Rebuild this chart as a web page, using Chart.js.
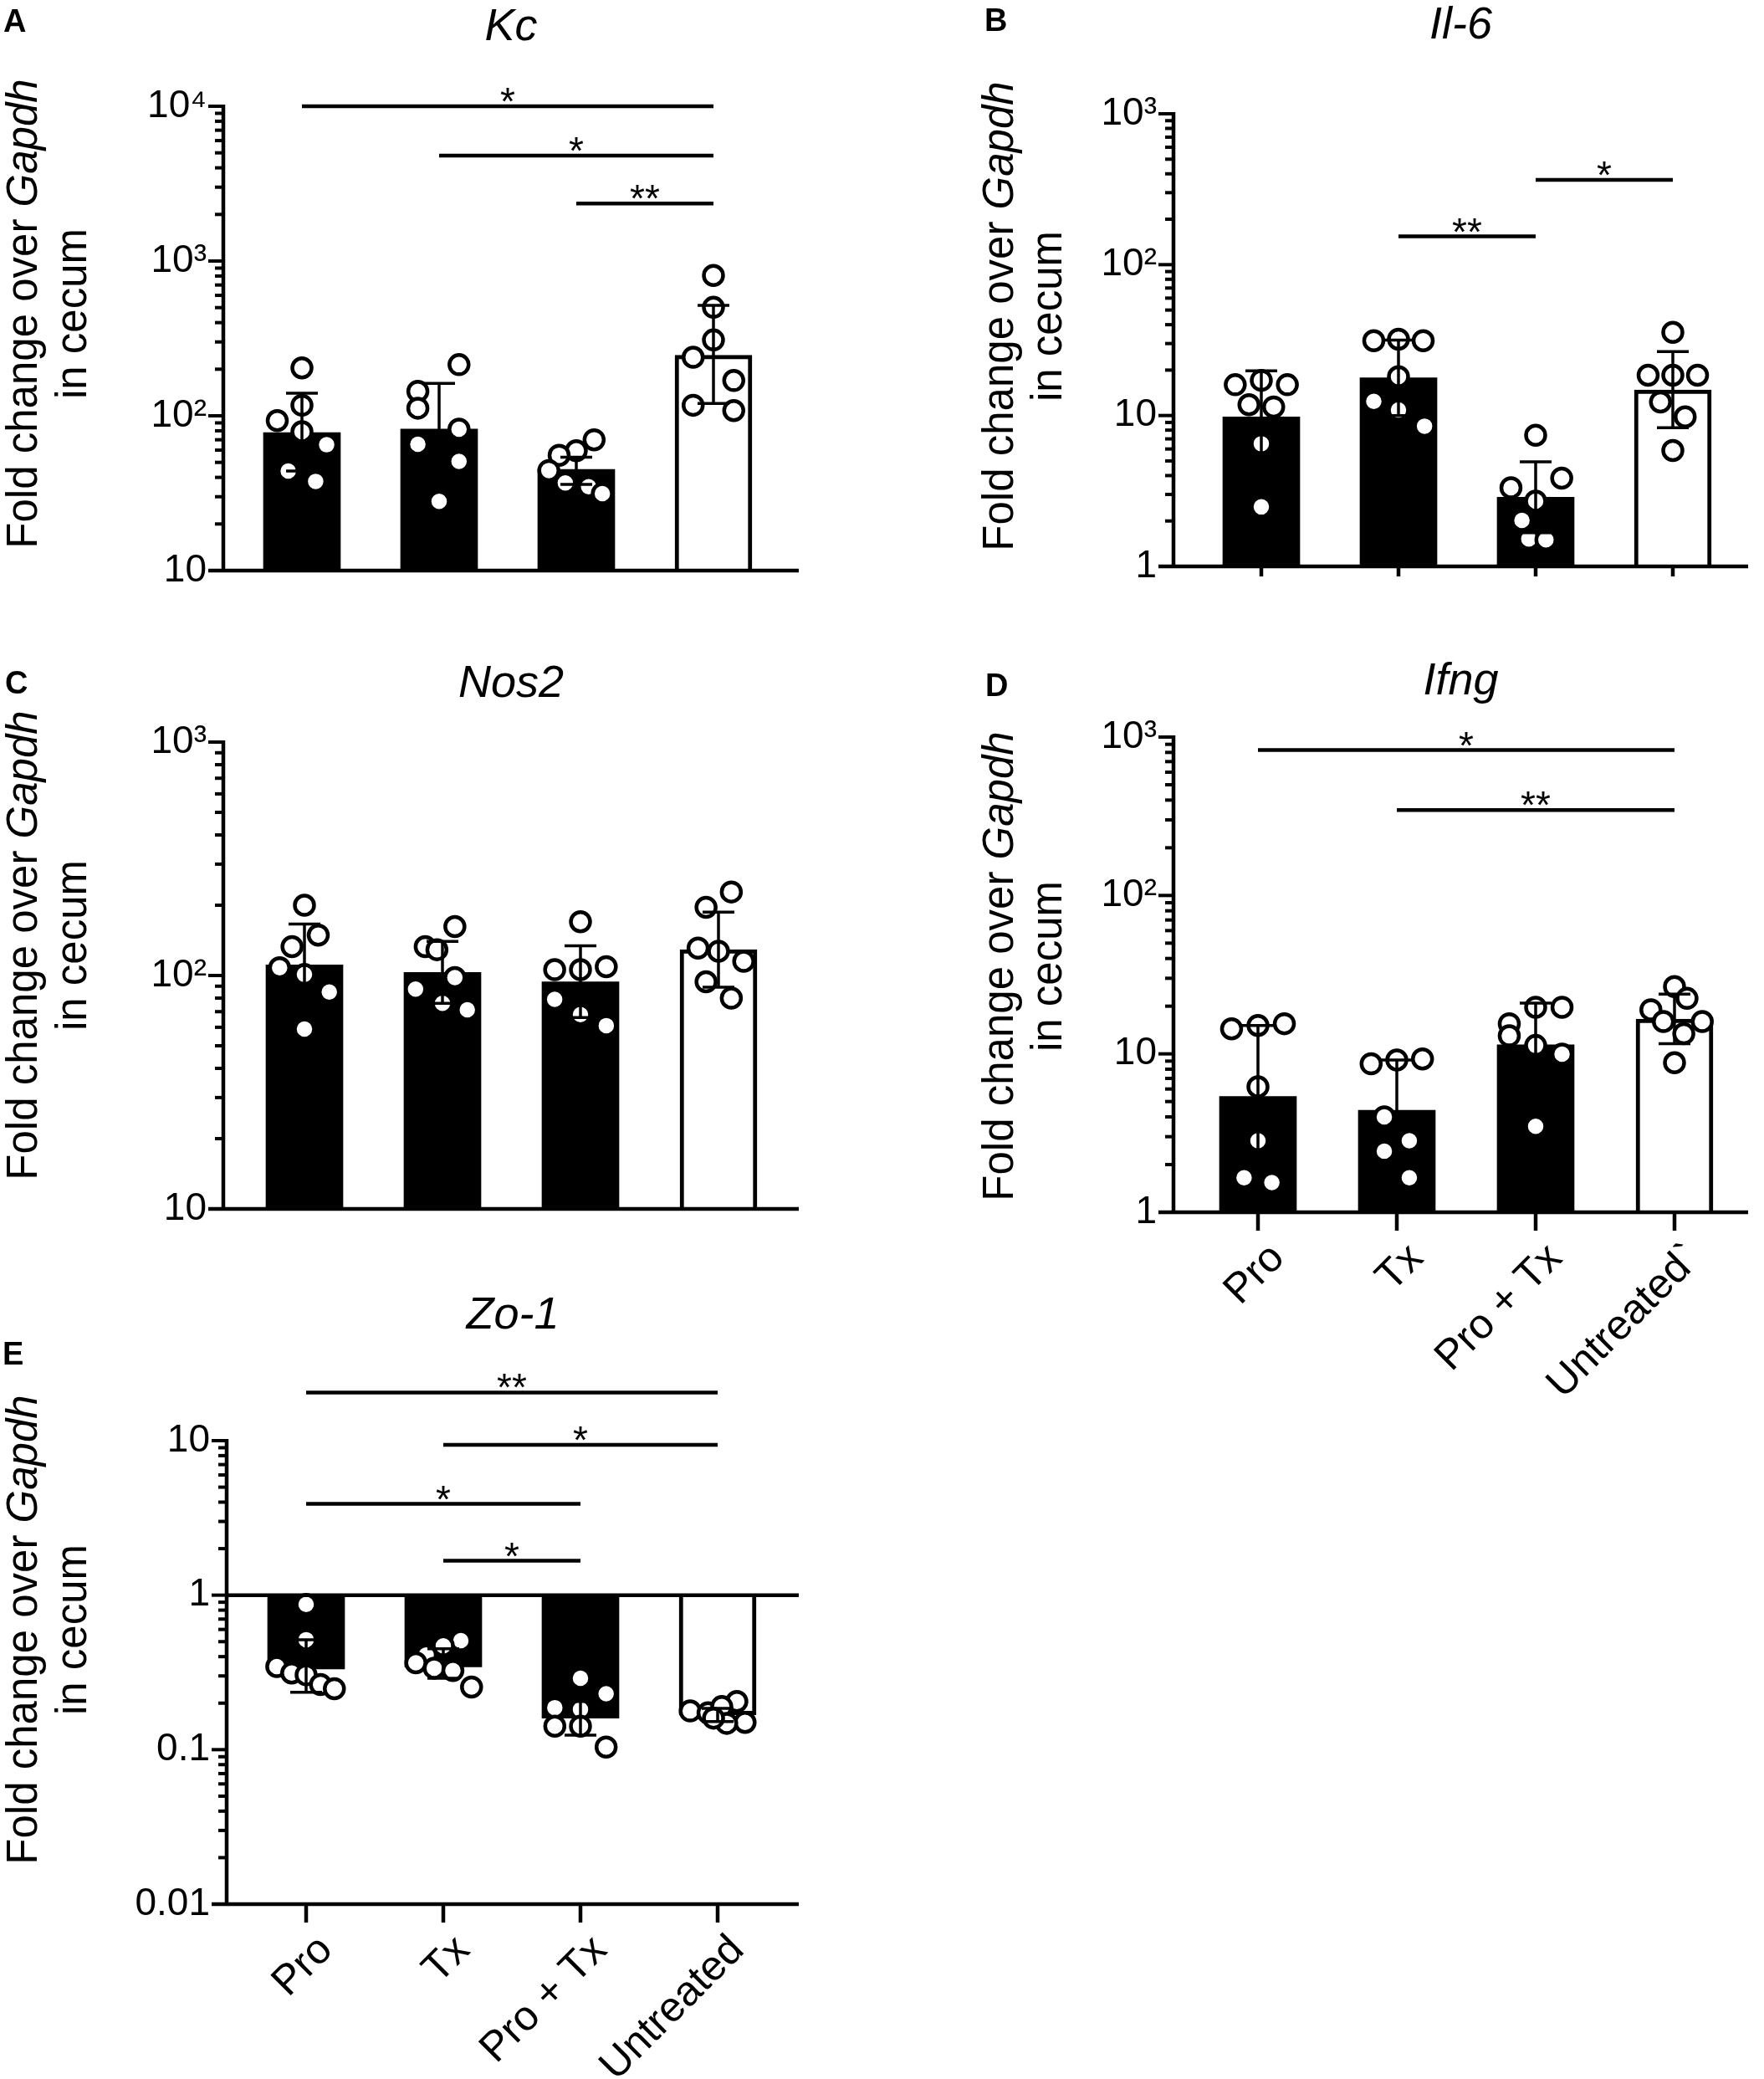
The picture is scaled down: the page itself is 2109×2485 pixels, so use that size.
<!DOCTYPE html>
<html>
<head>
<meta charset="utf-8">
<script src="https://cdn.jsdelivr.net/npm/chart.js@4.4.1/dist/chart.umd.min.js"></script>
<style>
  body { margin: 0; background: #fff; width: 2109px; height: 2485px; position: relative; overflow: hidden; }
  canvas { position: absolute; }
</style>
</head>
<body>
<canvas id="kc-chart" style="left:0;top:0" width="1000" height="760"></canvas>
<canvas id="il6-chart" style="left:1100px;top:0" width="1009" height="760"></canvas>
<canvas id="nos2-chart" style="left:0;top:760px" width="1000" height="740"></canvas>
<canvas id="ifng-chart" style="left:1100px;top:760px" width="1009" height="940"></canvas>
<canvas id="zo1-chart" style="left:0;top:1520px" width="1000" height="965"></canvas>
<script>
const FONT = "'Liberation Sans', Arial, Helvetica, sans-serif";

const categories = ['Pro', 'Tx', 'Pro + Tx', 'Untreated'];
const categoriesIfng = ['Pro', 'Tx', 'Pro + Tx', 'Untreated`'];

// Kc
const kcMean = [78, 82, 45, 246];
const kcLow = [44, 41, 36, 120];
const kcHigh = [140, 162, 54, 517];
const kcPoints = [
    [204, 117, 93, 79, 65, 44, 37.7],
    [214, 144, 112, 82, 65.5, 50.7, 28],
    [70, 59.5, 55.6, 44.3, 36.8, 34.8, 31.4],
    [807, 502, 309, 239, 169, 117, 108]
];
// horizontal scatter of each dot, in category widths
const kcSpread = [
    [0, 0, -0.18, 0, 0.18, -0.1, 0.1],
    [0.145, -0.155, -0.155, 0.145, -0.155, 0.145, 0],
    [0.13, 0, -0.125, -0.2, -0.08, 0.09, 0.19],
    [0, 0, 0, -0.148, 0.148, -0.148, 0.148]
];
const kcTicks = [10, 100, 1000, 10000];
const kcTickLabels = ['10', '10²', '10³', '10⁴'];
const kcSig = [[0, 3, 10000, '*'], [1, 3, 4800, '*'], [2, 3, 2350, '**']];

// Il-6
const il6Mean = [9.8, 17.8, 2.87, 14.8];
const il6Low = [4.9, 10.0, 1.67, 8.3];
const il6High = [19.8, 31.6, 4.94, 26.5];
const il6Points = [
    [16, 17.1, 16, 11.8, 11.4, 6.5, 2.48],
    [31.3, 32, 31.3, 18.1, 12.4, 10.9, 8.5],
    [7.4, 3.32, 3.85, 2.71, 2.02, 1.52, 1.5],
    [35.6, 18.5, 18.5, 18.5, 12.3, 9.8, 5.86]
];
const il6Spread = [
    [-0.19, 0, 0.19, -0.09, 0.09, 0, 0],
    [-0.18, 0, 0.18, 0, -0.18, 0, 0.19],
    [0, -0.18, 0.19, 0, -0.1, -0.05, 0.075],
    [0, -0.18, 0, 0.18, -0.09, 0.09, 0]
];
const il6Ticks = [1, 10, 100, 1000];
const il6TickLabels = ['1', '10', '10²', '10³'];
const il6Sig = [[1, 2, 154, '**'], [2, 3, 365, '*']];

// Nos2
const nos2Mean = [111, 103, 94, 129];
const nos2Low = [74, 76, 66, 89];
const nos2High = [166, 140, 134, 187];
const nos2Points = [
    [200, 133, 149, 108, 101, 85, 59],
    [162, 133, 129, 87.5, 98, 76, 71.3],
    [170, 106, 106, 109, 79, 68, 61],
    [228, 196, 131, 127, 115, 94, 80]
];
const nos2Spread = [
    [0, -0.09, 0.1, -0.18, 0, 0.18, 0],
    [0.09, -0.125, -0.04, -0.195, 0.09, 0, 0.18],
    [0, -0.187, 0, 0.187, -0.187, 0, 0.187],
    [0.093, -0.09, -0.148, 0, 0.183, -0.09, 0.093]
];
const nos2Ticks = [10, 100, 1000];
const nos2TickLabels = ['10', '10²', '10³'];
const nos2Sig = [];

// Ifng
const ifngMean = [5.38, 4.4, 11.4, 16.6];
const ifngLow = [1.92, 2.12, 6.2, 11.6];
const ifngHigh = [15.1, 9.15, 20.9, 23.8];
const ifngPoints = [
    [14.4, 15.1, 15.5, 6.2, 2.83, 1.65, 1.54],
    [8.65, 9.15, 9.28, 4.0, 2.83, 2.43, 1.65],
    [19.7, 19.7, 15.5, 13, 11.3, 9.95, 3.49],
    [26.6, 19, 22.4, 16, 16, 13.4, 8.8]
];
const ifngSpread = [
    [-0.19, 0, 0.19, 0, 0, -0.1, 0.1],
    [-0.185, 0, 0.185, -0.09, 0.09, -0.09, 0.09],
    [0.19, 0, -0.19, -0.19, 0, 0.19, 0],
    [0, -0.17, 0.09, -0.08, 0.2, 0.067, 0]
];
const ifngTicks = [1, 10, 100, 1000];
const ifngTickLabels = ['1', '10', '10²', '10³'];
const ifngSig = [[0, 3, 827, '*'], [1, 3, 346, '**']];

// Zo-1
const zo1Mean = [0.333, 0.343, 0.16, 0.168];
const zo1Low = [0.235, 0.29, 0.124, 0.152];
const zo1High = [0.515, 0.45, 0.205, 0.185];
const zo1Points = [
    [0.871, 0.515, 0.345, 0.313, 0.305, 0.264, 0.248],
    [0.508, 0.47, 0.41, 0.365, 0.337, 0.325, 0.254],
    [0.29, 0.23, 0.187, 0.182, 0.142, 0.142, 0.104],
    [0.205, 0.178, 0.173, 0.19, 0.15, 0.148, 0.16]
];
const zo1Spread = [
    [0, 0, -0.214, -0.105, 0, 0.105, 0.206],
    [0.128, 0, -0.125, -0.2, -0.066, 0.07, 0.206],
    [0, 0.187, -0.187, 0, -0.187, 0, 0.187],
    [0.14, -0.2, -0.07, 0.03, 0.2, 0.066, -0.03]
];
const zo1Ticks = [0.01, 0.1, 1, 10];
const zo1TickLabels = ['0.01', '0.1', '1', '10'];
const zo1Sig = [[0, 3, 20.5, '**'], [1, 3, 9.4, '*'], [0, 2, 3.9, '*'], [1, 2, 1.67, '*']];

function line(ctx, x1, y1, x2, y2) {
    ctx.beginPath();
    ctx.moveTo(x1, y1);
    ctx.lineTo(x2, y2);
    ctx.stroke();
}

function sameValue(a, b) {
    return Math.abs(Math.log10(a) - Math.log10(b)) < 1e-6;
}

// axes, error bars, significance bars, panel letter and y title, drawn the Prism way
const prismPlugin = {
    id: 'prism',
    afterDatasetsDraw(chart, args, o) {
        const {ctx, scales: {x, y}} = chart;
        ctx.save();
        ctx.strokeStyle = '#000';
        ctx.lineWidth = 3.5;
        o.mean.forEach((m, i) => {
            const px = x.getPixelForValue(i);
            const top = y.getPixelForValue(o.high[i]);
            const lowVisible = o.low[i] >= y.min;
            const bottom = y.getPixelForValue(Math.max(o.low[i], y.min));
            line(ctx, px, top, px, bottom);
            line(ctx, px - 19, top, px + 19, top);
            if (lowVisible) line(ctx, px - 19, bottom, px + 19, bottom);
        });
        ctx.restore();
    },
    afterDraw(chart, args, o) {
        const {ctx, chartArea: a, scales: {x, y}} = chart;
        ctx.save();
        ctx.strokeStyle = '#000';
        ctx.fillStyle = '#000';
        ctx.lineWidth = 4.5;
        line(ctx, a.left, a.top - 2, a.left, a.bottom);
        ctx.lineWidth = 4;
        y.ticks.forEach(t => {
            const py = y.getPixelForValue(t.value);
            const major = o.yTicks.some(v => sameValue(v, t.value));
            line(ctx, a.left - (major ? 18 : 10), py, a.left, py);
        });
        ctx.lineWidth = 4.5;
        line(ctx, a.left - 18, a.bottom, a.right, a.bottom);
        if (o.xTickLength) {
            x.ticks.forEach(t => {
                const px = x.getPixelForValue(t.value);
                line(ctx, px, a.bottom, px, a.bottom + o.xTickLength);
            });
        }
        if (o.refLine) {
            const py = y.getPixelForValue(o.refLine);
            line(ctx, a.left, py, a.right, py);
        }

        // significance
        ctx.font = '46px ' + FONT;
        ctx.textAlign = 'center';
        ctx.textBaseline = 'alphabetic';
        o.sig.forEach(([g1, g2, v, mark]) => {
            const x1 = x.getPixelForValue(g1);
            const x2 = x.getPixelForValue(g2);
            const py = y.getPixelForValue(v);
            line(ctx, x1, py, x2, py);
            ctx.fillText(mark, (x1 + x2) / 2, py + 10);
        });

        // panel letter
        ctx.font = 'bold 38px ' + FONT;
        ctx.textAlign = 'left';
        ctx.fillText(o.letter, o.letterX, o.letterY);

        // y axis title, two lines, gene name in italics
        const size = 51;
        ctx.save();
        ctx.translate(o.yTitleX[0], o.yTitleY);
        ctx.rotate(-Math.PI / 2);
        ctx.font = size + 'px ' + FONT;
        const w1 = ctx.measureText('Fold change over ').width;
        ctx.font = 'italic ' + size + 'px ' + FONT;
        const w2 = ctx.measureText('Gapdh').width;
        const sx = -(w1 + w2) / 2;
        ctx.font = size + 'px ' + FONT;
        ctx.fillText('Fold change over ', sx, 0);
        ctx.font = 'italic ' + size + 'px ' + FONT;
        ctx.fillText('Gapdh', sx + w1, 0);
        ctx.restore();
        ctx.save();
        ctx.translate(o.yTitleX[1], o.yTitleY);
        ctx.rotate(-Math.PI / 2);
        ctx.font = size + 'px ' + FONT;
        ctx.textAlign = 'center';
        ctx.fillText('in cecum', 0, 0);
        ctx.restore();

        ctx.restore();
    }
};

function makePanel(id, p) {
    const canvas = document.getElementById(id);
    const W = canvas.width, H = canvas.height;
    const titleSize = 54;
    const titleLine = titleSize * 1.2;

    const dots = [];
    p.points.forEach((vals, i) => {
        vals.forEach((v, k) => dots.push({x: i + p.spread[i][k], y: v}));
    });

    const yMin = p.yTicks[0], yMax = p.yTicks[p.yTicks.length - 1];
    const yAll = [];
    for (let d = yMin; d < yMax * 0.999; d *= 10) {
        for (let m = 1; m <= 9; m++) yAll.push(parseFloat((m * d).toPrecision(6)));
    }
    yAll.push(yMax);

    const barData = {
        type: 'bar',
        order: 2,
        data: p.mean.map((v, i) => ({x: i, y: v})),
        backgroundColor: ['#000', '#000', '#000', '#fff'],
        borderColor: '#000',
        borderWidth: [0, 0, 0, 5],
        borderSkipped: 'start',
        barThickness: 92
    };
    if (p.base) barData.base = p.base;

    new Chart(canvas, {
        type: 'bar',
        data: {
            datasets: [
                {
                    type: 'scatter',
                    order: 1,
                    data: dots,
                    pointRadius: 11.5,
                    pointHoverRadius: 11.5,
                    pointBorderWidth: 4.5,
                    pointBackgroundColor: '#fff',
                    pointBorderColor: '#000'
                },
                barData
            ]
        },
        options: {
            responsive: false,
            animation: false,
            devicePixelRatio: 1,
            layout: {padding: {left: 0, right: W - p.right, top: 0, bottom: 0}},
            plugins: {
                legend: {display: false},
                tooltip: {enabled: false},
                title: {
                    display: true,
                    text: p.title,
                    fullSize: false,
                    color: '#000',
                    font: {family: FONT, size: titleSize, style: 'italic', weight: 'normal'},
                    padding: {top: p.titleY - titleLine / 2, bottom: p.top - p.titleY - titleLine / 2}
                },
                prism: {
                    mean: p.mean, low: p.low, high: p.high, sig: p.sig, yTicks: p.yTicks,
                    xTickLength: p.xTickLength, refLine: p.base,
                    letter: p.letter, letterX: p.letterX, letterY: p.letterY,
                    yTitleX: p.yTitleX, yTitleY: p.yTitleY
                }
            },
            scales: {
                x: {
                    type: 'linear',
                    offset: false,
                    min: (p.left - p.c0) / p.step,
                    max: (p.right - p.c0) / p.step,
                    grid: {display: false, drawTicks: false, offset: false},
                    border: {display: false},
                    afterBuildTicks: s => { s.ticks = [0, 1, 2, 3].map(v => ({value: v})); },
                    afterFit: s => { s.height = H - p.bottom; },
                    ticks: {
                        display: !!p.xLabels,
                        autoSkip: false,
                        minRotation: 45,
                        maxRotation: 45,
                        padding: p.xLabelPad || 0,
                        labelOffset: 24,
                        color: '#000',
                        font: {family: FONT, size: 50},
                        callback: v => (p.xLabels ? p.xLabels[v] : '')
                    }
                },
                y: {
                    type: 'logarithmic',
                    min: yMin,
                    max: yMax,
                    grid: {display: false, drawTicks: false},
                    border: {display: false},
                    afterBuildTicks: s => { s.ticks = yAll.map(v => ({value: v})); },
                    afterFit: s => { s.width = p.left; },
                    ticks: {
                        autoSkip: false,
                        padding: 20,
                        color: '#000',
                        font: {family: FONT, size: 46},
                        callback: v => {
                            const k = p.yTicks.findIndex(t => sameValue(t, v));
                            return k >= 0 ? p.yTickLabels[k] : '';
                        }
                    }
                }
            }
        },
        plugins: [prismPlugin]
    });
}

makePanel('kc-chart', {
    title: 'Kc', letter: 'A', letterX: 4, letterY: 38,
    mean: kcMean, low: kcLow, high: kcHigh, points: kcPoints, spread: kcSpread,
    yTicks: kcTicks, yTickLabels: kcTickLabels, sig: kcSig,
    left: 267, right: 955, top: 127, bottom: 682, titleY: 33, c0: 361, step: 164,
    yTitleX: [44, 103], yTitleY: 375
});

makePanel('il6-chart', {
    title: 'Il-6', letter: 'B', letterX: 77, letterY: 37,
    mean: il6Mean, low: il6Low, high: il6High, points: il6Points, spread: il6Spread,
    yTicks: il6Ticks, yTickLabels: il6TickLabels, sig: il6Sig, xTickLength: 12,
    left: 303, right: 990, top: 136, bottom: 677, titleY: 31, c0: 408, step: 164,
    yTitleX: [111, 169], yTitleY: 378
});

makePanel('nos2-chart', {
    title: 'Nos2', letter: 'C', letterX: 6, letterY: 69,
    mean: nos2Mean, low: nos2Low, high: nos2High, points: nos2Points, spread: nos2Spread,
    yTicks: nos2Ticks, yTickLabels: nos2TickLabels, sig: nos2Sig,
    left: 267, right: 955, top: 127, bottom: 685, titleY: 58, c0: 364, step: 165,
    yTitleX: [44, 103], yTitleY: 370
});

makePanel('ifng-chart', {
    title: 'Ifng', letter: 'D', letterX: 78, letterY: 72,
    mean: ifngMean, low: ifngLow, high: ifngHigh, points: ifngPoints, spread: ifngSpread,
    yTicks: ifngTicks, yTickLabels: ifngTickLabels, sig: ifngSig,
    xLabels: categoriesIfng, xTickLength: 22, xLabelPad: 26,
    left: 303, right: 990, top: 121, bottom: 689, titleY: 55, c0: 404, step: 166,
    yTitleX: [111, 169], yTitleY: 395
});

makePanel('zo1-chart', {
    title: 'Zo-1', letter: 'E', letterX: 3, letterY: 111,
    mean: zo1Mean, low: zo1Low, high: zo1High, points: zo1Points, spread: zo1Spread,
    yTicks: zo1Ticks, yTickLabels: zo1TickLabels, sig: zo1Sig, base: 1,
    xLabels: categories, xTickLength: 22, xLabelPad: 26,
    left: 271, right: 955, top: 202, bottom: 756, titleY: 53, c0: 366, step: 164,
    yTitleX: [44, 103], yTitleY: 428
});
</script>
</body>
</html>
